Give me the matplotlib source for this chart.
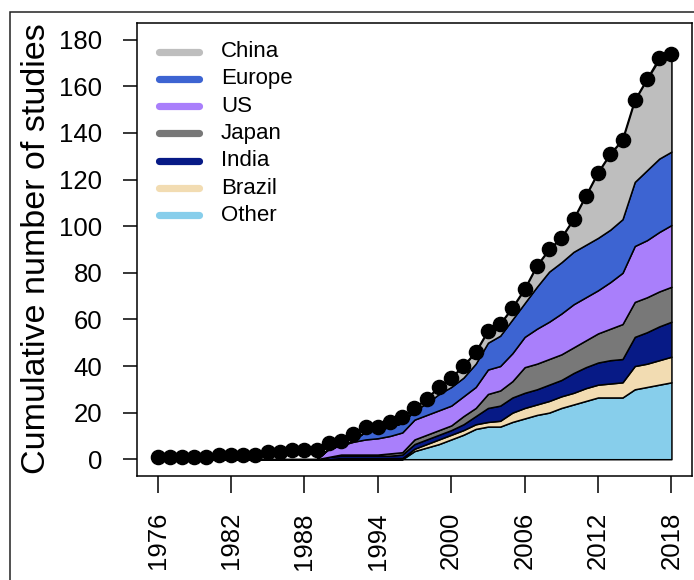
import matplotlib
matplotlib.use("Agg")
import matplotlib.pyplot as plt
from matplotlib.patches import Rectangle

plt.rcParams['font.family'] = ['Liberation Sans', 'DejaVu Sans']

years = list(range(1976, 2019))

# Cumulative number of studies (all countries)
total = [1, 1, 1, 1, 1, 2, 2, 2, 2, 3, 3, 4, 4, 4,
         7, 8, 11, 14, 14, 16, 18, 22, 26, 31, 35, 40, 46, 55, 58,
         65, 73, 83, 90, 95, 103, 113, 123, 131, 137, 154, 163, 172, 174]

pre = [0] * 14  # 1976-1989

# Cumulative studies by region, 1990-2018
other = pre + [0, 0, 0, 0, 0, 0, 0, 3.5, 5, 6.5, 8.5, 10.5, 13, 14, 14,
               16, 17.5, 19, 20, 22, 23.5, 25, 26.5, 26.5, 26.5, 30, 31, 32, 33]
brazil = pre + [0, 0.5, 0.5, 0.5, 0.5, 0.5, 0.5, 1, 1.5, 2, 2, 2, 2, 2, 2.5,
                4, 4.5, 4.5, 5, 5, 5, 5.5, 5.5, 6, 6.5, 10, 10, 10.5, 11]
india = pre + [1, 1, 1, 1, 1, 1, 1.5, 2, 2, 2, 2, 2.5, 3.5, 6, 6.5,
               6.5, 6.5, 6.5, 7, 7, 8.5, 9, 9.5, 10, 10, 12.5, 13.5, 14.5, 15]
japan = pre + [0, 0.5, 0.5, 0.5, 0.5, 1, 1, 2, 2, 2, 2, 3.5, 3.5, 6, 6.5,
               7, 11, 11, 11, 11, 11, 11.5, 12.5, 13.5, 15, 15, 15, 15, 15]
us = pre + [3.5, 4, 5.5, 6.5, 7, 7.5, 8.5, 8.5, 8.5, 8.5, 8.5, 8.5, 9, 10.5, 10.5,
            12, 13, 15, 16, 17.5, 18.5, 18.5, 18.5, 20, 22, 24, 24.5, 25.5, 26.5]
europe = pre + [0, 0, 0.5, 3.5, 3.5, 4, 4, 4, 5, 7, 8, 8, 10, 11.5, 13,
                14.5, 14.5, 18, 21.5, 22, 22.5, 22.5, 22.5, 22.5, 23, 27.5, 30, 31.5, 31.5]
china = pre + [0, 0, 0, 0, 0, 0, 0, 1, 2, 3, 4, 5, 5, 5, 5,
               5, 6, 9, 9.5, 10.5, 14, 21, 28, 32.5, 34, 35, 39, 42.5, 42]

regions = ['China', 'Europe', 'US', 'Japan', 'India', 'Brazil', 'Other']
region_colors = {
    'China': '#BEBEBE',
    'Europe': '#3D64D2',
    'US': '#A97FFB',
    'Japan': '#787878',
    'India': '#071A86',
    'Brazil': '#F2DCB2',
    'Other': '#87CEEB',
}

xticks = [1976, 1982, 1988, 1994, 2000, 2006, 2012, 2018]
yticks = [0, 20, 40, 60, 80, 100, 120, 140, 160, 180]

fig = plt.figure(figsize=(6.94, 5.80), dpi=100)
ax = fig.add_axes([137 / 694, 1 - 476 / 580, (692 - 137) / 694, (476 - 23) / 580])

stack_order = ['Other', 'Brazil', 'India', 'Japan', 'US', 'Europe', 'China']
stack_data = {'Other': other, 'Brazil': brazil, 'India': india, 'Japan': japan,
              'US': us, 'Europe': europe, 'China': china}
ax.stackplot(years, *[stack_data[k] for k in stack_order],
             colors=[region_colors[k] for k in stack_order],
             edgecolor='black', linewidth=1.1)

ax.plot(years, total, color='black', linewidth=1.1, marker='o',
        markersize=10.2, markerfacecolor='black', markeredgecolor='black', zorder=5)

pad_x = (2018 - 1976) * 0.04
ax.set_xlim(1976 - pad_x, 2018 + pad_x)
ax.set_ylim(-180 * 0.04, 180 * 1.04)

ax.set_xticks(xticks)
ax.set_xticklabels([str(t) for t in xticks], rotation=90, fontsize=18.5)
ax.set_yticks(yticks)
ax.set_yticklabels([str(t) for t in yticks], fontsize=18.5)
ax.tick_params(axis='y', direction='out', length=10, width=1.1, pad=15)
ax.tick_params(axis='x', direction='out', length=12, width=1.1, pad=14)
for sp in ax.spines.values():
    sp.set_linewidth(1.1)

fig.text(37 / 694, 1 - 249 / 580, 'Cumulative number of studies', rotation=90,
         fontsize=24.5, ha='center', va='center')

# legend drawn as thick line swatches with labels
row0 = 1 - (51.5 - 23) / 453
row_step = 27.3 / 453
for i, name in enumerate(regions):
    y = row0 - i * row_step
    ax.plot([(159 - 137) / 555, (199 - 137) / 555], [y, y], transform=ax.transAxes,
            color=region_colors[name], linewidth=5.2, solid_capstyle='round', zorder=6)
    ax.text((221 - 137) / 555, y, name, transform=ax.transAxes, fontsize=16,
            va='center', ha='left', zorder=6)

# outer frame
fig.patches.append(Rectangle((10 / 694, -0.5), 2.0, 0.5 + (1 - 12 / 580),
                             transform=fig.transFigure, fill=False,
                             edgecolor='#222222', linewidth=1.1))

fig.savefig('out.png', dpi=100)
